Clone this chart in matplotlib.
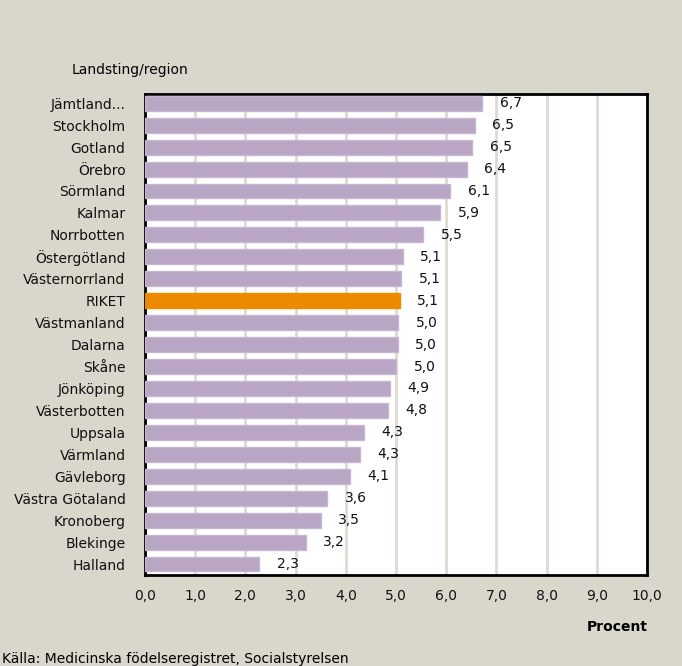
import matplotlib.pyplot as plt
from matplotlib.ticker import FuncFormatter

# Data
regioner = ['Jämtland...', 'Stockholm', 'Gotland', 'Örebro', 'Sörmland', 'Kalmar',
            'Norrbotten', 'Östergötland', 'Västernorrland', 'RIKET', 'Västmanland',
            'Dalarna', 'Skåne', 'Jönköping', 'Västerbotten', 'Uppsala', 'Värmland',
            'Gävleborg', 'Västra Götaland', 'Kronoberg', 'Blekinge', 'Halland']
procent = [6.7, 6.5, 6.5, 6.4, 6.1, 5.9, 5.5, 5.1, 5.1, 5.1, 5.0,
           5.0, 5.0, 4.9, 4.8, 4.3, 4.3, 4.1, 3.6, 3.5, 3.2, 2.3]
# Bar lengths as drawn (slightly differ from rounded labels)
langd = [6.72, 6.57, 6.52, 6.41, 6.08, 5.88, 5.54, 5.13, 5.1, 5.07, 5.04,
         5.03, 5.0, 4.88, 4.84, 4.36, 4.28, 4.08, 3.63, 3.5, 3.2, 2.27]

bg = '#d9d6cb'
lila = '#b8a6c4'
orange = '#ec8a00'

fig = plt.figure(figsize=(6.82, 6.66), dpi=100, facecolor=bg)
ax = fig.add_axes([145 / 682, 1 - 575 / 666, 502 / 682, 481 / 666])
ax.set_facecolor('white')

y = list(range(len(regioner)))
farger = [orange if r == 'RIKET' else lila for r in regioner]
kanter = [orange if r == 'RIKET' else '#c6b8d1' for r in regioner]
ax.barh(y, langd, height=0.68, color=farger, edgecolor=kanter, linewidth=1.0, zorder=3)

for yi, v, l in zip(y, procent, langd):
    ax.text(l + 0.35, yi, f'{v:.1f}'.replace('.', ','), va='center', ha='left',
            fontsize=10, color='#111111')

ax.set_xlim(0, 10)
ax.set_ylim(21.5, -0.42)
ax.set_xticks(range(0, 11))
ax.xaxis.set_major_formatter(FuncFormatter(lambda x, p: f'{x:.1f}'.replace('.', ',')))
ax.set_yticks(y)
ax.set_yticklabels(regioner)
ax.tick_params(axis='both', length=0, labelsize=10, colors='#111111')
ax.tick_params(axis='y', pad=14)
ax.tick_params(axis='x', pad=10)
ax.grid(axis='x', color='#dedbd2', linewidth=2, zorder=0)
for s in ax.spines.values():
    s.set_linewidth(2)
    s.set_color('black')

fig.text(72 / 682, 1 - 70 / 666, 'Landsting/region', fontsize=10, va='center', ha='left')
fig.text(648 / 682, 1 - 627 / 666, 'Procent', fontsize=10, fontweight='bold',
         va='center', ha='right')
fig.text(2 / 682, 1 - 659 / 666, 'Källa: Medicinska födelseregistret, Socialstyrelsen',
         fontsize=10, va='center', ha='left')

fig.savefig('out.png', dpi=100, facecolor=bg)
